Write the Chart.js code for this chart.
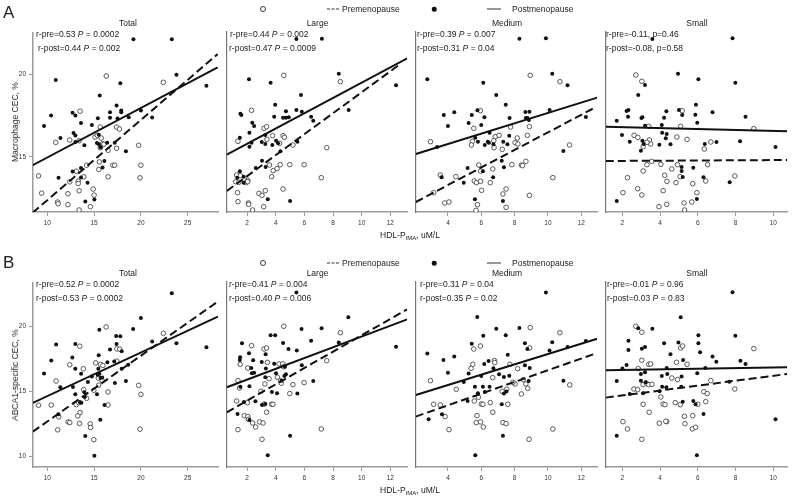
<!DOCTYPE html>
<html lang="en">
  <head>
    <meta charset="UTF-8" />
    <title>CEC vs HDL-P</title>
    <script src="https://cdn.jsdelivr.net/npm/chart.js"></script>
    <style>
      body {
        margin: 0;
        background: #fff;
        font-family: "Liberation Sans", Arial, sans-serif;
        color: #222;
      }
      #wrap {
        position: relative;
        width: 792px;
        height: 496px;
        overflow: hidden;
      }
      .txt {
        position: absolute;
        white-space: nowrap;
        transform: translateY(-50%);
        font-size: 8.5px;
        line-height: 1;
      }
      .ctr {
        transform: translate(-50%, -50%);
      }
      .ylab {
        position: absolute;
        white-space: nowrap;
        font-size: 8.5px;
        color: #222;
        transform: translate(-50%, -50%) rotate(-90deg);
      }
      .big {
        font-size: 17px;
      }
      sub {
        font-size: 6px;
        vertical-align: -2px;
      }
    </style>
  </head>
  <body>
    <div id="wrap"></div>

    <script>
      // panel names and axis ticks
      const panelNames = ["Total", "Large", "Medium", "Small"];
      const xTicks = [
        [10, 15, 20, 25],
        [2, 4, 6, 8, 10, 12],
        [4, 6, 8, 10, 12],
        [2, 4, 6, 8, 10],
      ];
      const yTicksA = [15, 20];
      const yTicksB = [10, 15, 20];

      const statsA = [
        ["r-pre=0.53 <i>P</i> = 0.0002", "r-post=0.44 <i>P</i> = 0.002"],
        ["r-pre=0.44 <i>P</i> = 0.002", "r-post=0.47 <i>P</i> = 0.0009"],
        ["r-pre=0.39 <i>P</i> = 0.007", "r-post=0.31 <i>P</i> = 0.04"],
        ["r-pre=-0.11, p=0.46", "r-post=-0.08, p=0.58"],
      ];
      const statsB = [
        ["r-pre=0.52 <i>P</i> = 0.0002", "r-post=0.53 <i>P</i> = 0.0002"],
        ["r-pre=0.41 <i>P</i> = 0.004", "r-post=0.40 <i>P</i> = 0.006"],
        ["r-pre=0.31 <i>P</i> = 0.04", "r-post=0.35 <i>P</i> = 0.02"],
        ["r-pre=-0.01 <i>P</i> = 0.96", "r-post=0.03 <i>P</i> = 0.83"],
      ];

      // ---- A: macrophage CEC ----
      const aTotalPre = [[16.3,19.88],[22.4,19.5],[13.5,17.76],[15.66,16.8],[17.4,16.8],[17.7,16.68],[10.9,15.88],[12.4,16.02],[13.4,15.98],[15.1,16.2],[15.35,16.3],[15.76,16.14],[15.9,15.8],[15.66,15.56],[16.04,15.76],[16.5,15.4],[17.4,15.52],[19.76,15.7],[14.2,14.5],[15.56,14.7],[15.5,14.24],[17.0,14.5],[17.2,14.5],[20.0,14.5],[16.5,13.8],[19.9,13.74],[9.06,13.86],[13.1,14.14],[13.9,13.8],[12.4,13.5],[13.3,13.54],[13.3,13.4],[13.4,12.96],[14.9,13.06],[15.0,12.7],[9.4,12.82],[11.1,12.28],[11.15,12.18],[12.2,12.78],[12.2,12.12],[13.4,11.8],[14.6,12.0]];
      const aTotalPost = [[19.2,22.1],[23.3,22.1],[10.9,19.64],[23.8,19.96],[17.8,19.44],[27.0,19.3],[15.6,18.7],[10.4,17.5],[12.7,17.66],[13.0,17.5],[17.4,18.1],[16.7,17.7],[17.9,17.8],[17.9,17.7],[15.4,17.34],[16.7,17.36],[17.5,17.32],[20.0,17.8],[18.7,17.4],[21.2,17.38],[9.65,16.86],[13.6,17.04],[14.76,16.92],[11.4,16.14],[12.8,16.44],[13.0,16.3],[15.5,16.34],[13.0,15.9],[13.96,15.7],[15.3,15.84],[15.5,15.76],[15.7,15.58],[16.4,15.86],[17.2,15.86],[18.4,15.34],[16.1,14.76],[15.9,14.36],[11.2,13.74],[12.7,14.12],[13.6,14.34],[14.3,13.44],[13.6,13.76],[14.06,12.32],[15.03,12.44]];
      const aTotalPreFit = [[8.44,11.64],[28.2,21.2]];
      const aTotalPostFit = [[8.44,14.5],[28.2,20.4]];

      const aLargePre = [[4.56,19.88],[8.51,19.5],[2.31,17.78],[3.18,16.7],[3.36,16.8],[1.36,15.92],[3.38,16.04],[3.78,16.26],[4.51,16.26],[4.6,16.16],[4.27,15.8],[5.2,15.7],[7.56,15.54],[3.56,14.5],[4.31,14.52],[4.98,14.52],[5.98,14.52],[4.09,14.28],[3.82,14.16],[3.71,13.8],[7.18,13.74],[1.27,13.9],[1.53,13.86],[2.04,13.58],[1.2,13.5],[1.42,13.46],[1.93,13.44],[2.04,13.5],[1.33,12.84],[1.36,12.3],[2.09,12.22],[2.11,12.14],[2.38,11.8],[2.82,12.8],[3.04,12.68],[3.27,12.96],[4.51,13.06],[3.16,12.0]];
      const aLargePost = [[7.22,22.08],[5.44,22.06],[2.13,19.64],[3.64,19.44],[8.4,19.98],[12.4,19.28],[5.76,18.7],[3.96,18.12],[5.44,17.8],[4.71,17.72],[5.82,17.7],[9.09,17.8],[1.53,17.58],[1.6,17.5],[3.89,17.4],[4.51,17.34],[4.71,17.34],[4.91,17.36],[6.47,17.4],[6.62,17.16],[2.36,17.04],[2.49,16.84],[2.16,16.44],[1.49,16.14],[3.27,16.3],[4.02,15.96],[4.16,15.8],[3.76,15.7],[3.27,15.76],[3.02,15.88],[2.31,15.84],[2.16,15.6],[5.51,15.9],[4.33,15.32],[3.04,14.76],[2.6,14.32],[3.29,14.38],[1.49,14.12],[1.76,13.8],[1.31,13.74],[1.76,13.44],[3.44,12.44],[5.0,12.34]];
      const aLargePreFit = [[0.58,12.94],[12.6,20.5]];
      const aLargePostFit = [[0.58,15.12],[13.18,20.9]];

      const aMediumPre = [[8.94,19.88],[10.72,19.5],[5.95,17.76],[5.55,16.7],[7.76,16.78],[8.89,16.8],[2.95,15.9],[5.47,15.92],[5.41,15.7],[6.84,16.2],[7.07,16.28],[6.75,15.96],[6.77,15.54],[7.26,15.44],[8.03,15.84],[8.16,16.12],[8.2,15.76],[8.77,16.28],[11.3,15.7],[5.85,14.5],[5.96,14.14],[6.69,14.26],[7.84,14.52],[8.41,14.5],[8.68,14.72],[8.48,14.46],[3.54,13.9],[4.48,13.8],[5.58,13.54],[5.71,13.44],[5.96,13.52],[6.54,13.44],[10.3,13.74],[6.02,12.98],[7.49,13.06],[7.3,12.76],[8.89,12.68],[3.14,12.84],[3.81,12.22],[4.06,12.28],[5.77,12.12],[5.68,11.78],[7.49,11.96]];
      const aMediumPost = [[8.29,22.08],[9.88,22.1],[2.76,19.64],[6.12,19.44],[10.26,19.98],[11.18,19.28],[6.9,18.7],[7.47,18.12],[3.75,17.5],[4.38,17.66],[5.43,17.5],[4.0,16.84],[5.24,17.02],[5.77,17.78],[6.19,17.36],[6.0,16.9],[7.7,17.32],[8.65,17.68],[8.89,17.7],[8.68,17.32],[8.77,17.32],[8.86,17.2],[10.1,17.8],[12.28,17.38],[6.5,16.44],[5.64,16.14],[5.8,15.9],[6.39,15.9],[6.46,15.84],[6.73,15.74],[6.21,15.7],[7.32,15.9],[7.57,15.74],[7.68,16.26],[10.93,15.34],[7.23,14.76],[7.36,14.36],[5.18,14.32],[6.1,14.12],[6.71,13.76],[3.62,13.76],[4.95,13.44],[5.62,12.44],[7.3,12.34],[3.35,15.58]];
      const aMediumPreFit = [[2.07,12.28],[12.74,17.9]];
      const aMediumPostFit = [[2.07,15.16],[12.96,18.54]];

      const aSmallPre = [[2.71,19.9],[3.03,19.52],[5.17,17.76],[3.4,16.82],[5.09,16.82],[8.97,16.68],[2.62,16.28],[2.82,16.16],[3.43,16.0],[3.5,15.76],[3.3,15.86],[3.1,15.6],[4.89,16.18],[5.43,16.04],[6.34,15.46],[6.69,15.88],[3.3,14.52],[3.55,14.72],[4.04,14.54],[4.62,14.26],[4.92,14.52],[6.52,14.52],[3.1,14.14],[4.24,13.88],[4.36,13.52],[4.84,13.44],[5.06,13.8],[6.42,13.54],[5.73,13.38],[2.27,13.74],[7.96,13.84],[2.81,13.08],[4.16,12.96],[2.03,12.84],[3.03,12.7],[5.95,12.84],[4.35,12.14],[3.94,12.0],[5.27,12.22],[5.68,12.28],[5.3,11.8]];
      const aSmallPost = [[7.84,22.1],[3.59,22.06],[4.95,19.98],[6.03,19.64],[7.99,19.44],[3.2,19.3],[2.84,18.7],[5.9,18.12],[2.22,17.74],[2.32,17.8],[2.3,17.4],[3.01,17.32],[3.06,17.36],[1.7,17.16],[4.33,17.72],[4.21,17.34],[5.0,17.8],[5.17,17.5],[5.87,17.52],[5.97,17.04],[6.78,17.66],[8.53,17.4],[3.2,16.86],[4.09,16.9],[1.98,16.3],[2.39,15.9],[4.11,16.44],[4.35,16.36],[4.3,16.1],[3.06,15.96],[3.13,15.76],[2.98,15.36],[3.96,15.72],[4.55,15.74],[6.37,15.76],[6.99,15.88],[8.24,15.92],[10.12,15.58],[5.14,14.38],[5.14,14.14],[5.2,13.78],[5.76,14.34],[6.3,13.76],[7.69,13.46],[1.7,12.34],[5.95,12.46]];
      const aSmallPreFit = [[1.12,14.74],[10.74,14.8]];
      const aSmallPostFit = [[1.12,16.8],[10.74,16.52]];

      // ---- B: ABCA1-specific CEC ----
      const bTotalPre = [[16.28,19.95],[22.4,19.46],[13.47,18.47],[17.43,18.27],[17.74,18.24],[12.4,17.04],[13.85,16.73],[10.94,15.79],[15.17,17.19],[15.69,17.07],[15.94,16.99],[17.43,17.32],[15.45,16.02],[15.49,15.48],[14.97,15.08],[13.89,15.13],[16.49,14.95],[19.76,15.46],[9.06,13.93],[10.42,13.95],[13.09,13.98],[13.37,14.13],[14.2,14.46],[15.87,15.82],[13.5,13.37],[13.26,13.11],[16.49,13.95],[20.0,14.77],[11.22,13.04],[11.11,12.04],[12.22,12.65],[12.4,12.6],[13.44,12.53],[14.58,12.5],[14.62,12.22],[14.97,11.28],[19.9,12.09]];
      const bTotalPost = [[23.3,22.55],[20.0,20.64],[19.17,19.8],[15.56,19.74],[17.36,19.26],[17.8,19.23],[17.4,18.65],[21.2,18.83],[23.8,18.7],[27.0,18.39],[10.94,18.6],[12.99,18.65],[16.7,18.21],[17.95,18.09],[10.42,17.37],[12.67,17.6],[15.49,17.78],[16.42,17.24],[17.15,17.3],[12.99,16.73],[15.45,16.73],[17.95,16.73],[18.65,17.04],[9.65,16.38],[13.61,16.35],[14.76,16.15],[11.39,15.31],[12.74,15.33],[14.34,15.71],[15.38,16.28],[15.56,16.35],[15.69,16.05],[15.87,16.07],[17.22,15.64],[18.4,15.79],[12.99,14.77],[13.96,14.92],[15.31,14.77],[14.0,14.57],[13.5,14.16],[13.64,14.13],[11.18,13.24],[16.11,13.95],[15.66,12.81],[14.06,11.56],[15.03,10.05]];
      const bTotalPreFit = [[8.44,11.89],[28.23,21.91]];
      const bTotalPostFit = [[8.44,14.11],[28.23,20.74]];

      const bLargePre = [[4.56,19.95],[8.51,19.46],[2.31,18.47],[3.18,18.21],[3.36,18.29],[1.51,17.04],[2.04,16.76],[3.42,17.19],[4.22,17.07],[4.49,17.07],[4.56,16.86],[7.56,17.32],[1.36,15.79],[1.47,15.23],[2.96,14.97],[3.53,15.94],[3.24,15.54],[4.11,16.05],[4.33,15.79],[4.38,15.59],[5.2,15.48],[4.98,14.8],[5.98,15.64],[1.27,14.23],[2.02,14.1],[3.2,14.0],[3.71,13.98],[3.8,13.98],[3.36,13.37],[1.8,13.11],[2.04,13.04],[2.09,12.83],[2.38,12.55],[2.6,12.24],[2.87,12.63],[3.11,12.55],[1.36,12.04],[3.04,11.3],[7.18,12.09]];
      const bLargePost = [[5.44,22.53],[9.07,20.64],[5.8,19.74],[7.2,19.8],[3.64,19.26],[3.96,19.26],[6.47,18.85],[4.51,18.67],[8.4,18.7],[12.4,18.39],[1.64,18.65],[4.89,18.21],[5.47,18.09],[2.13,17.88],[3.29,17.81],[1.51,17.58],[1.49,17.37],[2.42,17.35],[3.02,17.22],[3.89,17.09],[3.31,16.71],[2.29,16.76],[2.49,16.4],[2.33,16.35],[4.64,16.86],[5.82,16.96],[4.02,16.35],[3.27,16.05],[4.4,15.79],[4.71,16.28],[4.6,16.15],[1.53,15.33],[2.16,15.36],[6.62,15.77],[3.73,14.92],[4.09,14.82],[5.51,14.8],[2.58,14.21],[3.04,13.93],[3.27,14.0],[1.78,14.16],[1.33,13.24],[2.16,12.78],[5.0,11.58],[3.44,10.08]];
      const bLargePreFit = [[0.58,13.37],[13.18,21.25]];
      const bLargePostFit = [[0.58,15.28],[13.18,20.48]];

      const bMediumPre = [[8.94,19.85],[10.72,19.46],[5.55,18.21],[5.95,18.44],[8.91,18.29],[5.49,17.04],[5.39,16.73],[6.79,17.32],[6.81,17.17],[7.72,17.04],[8.18,16.71],[2.95,15.79],[4.5,15.13],[6.69,16.02],[8.03,15.54],[7.9,15.66],[8.52,15.87],[8.68,15.54],[8.79,15.2],[7.26,14.97],[7.53,15.13],[8.41,14.77],[11.31,15.46],[3.14,13.98],[3.54,13.93],[3.83,13.04],[5.58,14.23],[5.83,14.52],[6.0,14.0],[6.1,13.98],[6.54,14.11],[6.69,13.37],[7.59,13.98],[5.74,13.11],[5.7,12.58],[5.96,12.63],[6.12,12.24],[7.3,12.58],[7.49,12.5],[4.06,12.04],[10.3,12.09],[8.87,11.3]];
      const bMediumPost = [[9.88,22.53],[5.76,20.66],[6.9,19.77],[8.29,19.82],[6.12,19.23],[7.47,19.26],[10.26,18.72],[2.76,17.86],[5.43,18.62],[8.62,18.65],[8.77,18.21],[3.73,17.37],[4.38,17.63],[7.59,17.78],[10.1,18.09],[11.18,18.37],[12.28,18.83],[6.18,17.07],[6.44,17.3],[6.73,16.73],[4.0,16.4],[5.24,16.33],[6.0,16.15],[7.07,16.28],[7.36,16.07],[7.68,16.17],[8.62,16.96],[8.91,16.76],[4.95,15.69],[5.62,15.33],[6.1,15.33],[6.5,15.33],[6.21,14.92],[5.8,14.82],[7.36,14.8],[7.51,14.95],[8.85,15.77],[10.93,15.79],[5.18,14.23],[7.23,13.98],[2.84,12.83],[3.64,13.21],[7.3,11.58],[5.64,10.08]];
      const bMediumPreFit = [[2.07,13.04],[12.74,17.81]];
      const bMediumPostFit = [[2.07,14.69],[12.96,19.0]];

      const bSmallPre = [[2.71,19.95],[3.03,19.49],[8.97,18.24],[5.09,18.29],[5.19,18.44],[3.03,17.35],[3.4,17.04],[3.5,17.07],[2.84,16.71],[5.43,17.04],[4.87,17.19],[4.62,15.99],[4.92,15.87],[6.69,15.79],[2.61,15.15],[2.81,15.1],[3.1,15.48],[3.28,15.59],[3.4,15.48],[3.57,15.51],[4.04,14.54],[4.16,14.0],[4.26,13.95],[4.8,14.11],[5.07,13.95],[6.32,14.95],[6.5,14.8],[6.42,14.18],[7.96,15.15],[6.0,13.98],[3.1,13.98],[3.42,13.37],[5.29,13.06],[5.32,12.5],[5.73,13.11],[5.71,12.09],[5.88,12.22],[4.35,12.65],[4.3,12.68],[3.96,12.53],[2.03,12.65],[2.27,12.09],[3.03,11.3]];
      const bSmallPost = [[7.84,22.55],[5.09,20.64],[3.59,19.77],[2.84,19.8],[6.03,19.26],[7.99,19.23],[2.32,18.85],[4.21,18.65],[6.03,18.65],[4.97,18.7],[3.2,18.37],[3.03,18.24],[2.32,18.14],[4.55,17.81],[6.12,17.96],[6.78,17.63],[6.98,17.24],[8.26,17.32],[8.53,17.07],[5.22,17.37],[2.22,16.99],[2.0,16.71],[4.35,16.76],[6.4,16.76],[3.2,16.43],[2.98,16.3],[4.09,16.15],[4.38,16.3],[5.14,16.1],[5.97,16.35],[2.98,15.79],[1.7,15.77],[4.11,15.33],[4.33,15.28],[5.12,15.33],[3.23,15.66],[2.39,14.77],[3.1,14.82],[3.97,14.97],[5.2,14.18],[5.76,14.23],[5.88,13.98],[7.67,15.71],[6.3,13.24],[10.12,12.83],[1.7,11.58],[5.95,10.08]];
      const bSmallPreFit = [[1.12,14.49],[10.74,16.3]];
      const bSmallPostFit = [[1.12,16.58],[10.74,16.81]];

      // layout (pixels) and axis ranges
      const plotLeft = [33, 223, 412, 602];
      const plotRight = [223, 412, 602, 792];
      const xRange = [[8.47, 28.26], [0.58, 13.18], [2.07, 12.96], [1.12, 10.74]];

      const rows = [
        {
          top: 32, bottom: 212, yMin: 11.68, yMax: 22.48, yTicks: yTicksA,
          letter: "A", yTitle: "Macrophage CEC, %", stats: statsA,
          pre: [aTotalPre, aLargePre, aMediumPre, aSmallPre],
          post: [aTotalPost, aLargePost, aMediumPost, aSmallPost],
          preFit: [aTotalPreFit, aLargePreFit, aMediumPreFit, aSmallPreFit],
          postFit: [aTotalPostFit, aLargePostFit, aMediumPostFit, aSmallPostFit],
          statX: [[36, 38], [230, 229], [417, 417], [606, 606]],
        },
        {
          top: 282, bottom: 467, yMin: 9.18, yMax: 23.34, yTicks: yTicksB,
          letter: "B", yTitle: "ABCA1-specific CEC, %", stats: statsB,
          pre: [bTotalPre, bLargePre, bMediumPre, bSmallPre],
          post: [bTotalPost, bLargePost, bMediumPost, bSmallPost],
          preFit: [bTotalPreFit, bLargePreFit, bMediumPreFit, bSmallPreFit],
          postFit: [bTotalPostFit, bLargePostFit, bMediumPostFit, bSmallPostFit],
          statX: [[36, 36], [229, 229], [420, 420], [607, 607]],
        },
      ];

      const AXIS = "#9a9a9a";
      const INK = "#111";
      const wrap = document.getElementById("wrap");

      Chart.defaults.font.family = "'Liberation Sans', Arial, sans-serif";
      Chart.defaults.color = "#333";

      function addText(html, x, y, cls) {
        const d = document.createElement("div");
        d.className = cls;
        d.style.left = x + "px";
        d.style.top = y + "px";
        d.innerHTML = html;
        wrap.appendChild(d);
        return d;
      }

      const toPts = (arr) => arr.map(([x, y]) => ({ x, y }));

      function makePanel(row, i) {
        const first = i === 0;
        const left = first ? 0 : plotLeft[i] - 1;
        const w = plotRight[i] - left;
        const canvasTop = row.top - 6;
        const h = 6 + (row.bottom - row.top) + 20;
        const canvas = document.createElement("canvas");
        canvas.width = w;
        canvas.height = h;
        canvas.style.cssText =
          "position:absolute;left:" + left + "px;top:" + canvasTop + "px;width:" + w + "px;height:" + h + "px";
        wrap.appendChild(canvas);

        new Chart(canvas.getContext("2d"), {
          type: "scatter",
          data: {
            datasets: [
              {
                data: toPts(row.postFit[i]),
                showLine: true,
                borderColor: INK,
                borderWidth: 2,
                pointRadius: 0,
              },
              {
                data: toPts(row.preFit[i]),
                showLine: true,
                borderColor: INK,
                borderWidth: 2,
                borderDash: [8, 4],
                pointRadius: 0,
              },
              {
                data: toPts(row.post[i]),
                pointRadius: 2,
                pointBackgroundColor: INK,
                pointBorderWidth: 0,
              },
              {
                data: toPts(row.pre[i]),
                pointRadius: 2.3,
                pointBackgroundColor: "#fff",
                pointBorderColor: "#333",
                pointBorderWidth: 0.8,
              },
            ],
          },
          options: {
            responsive: false,
            animation: false,
            events: [],
            layout: { padding: { top: 6, left: 0, right: 0, bottom: 0 } },
            plugins: { legend: { display: false }, tooltip: { enabled: false } },
            scales: {
              x: {
                type: "linear",
                min: xRange[i][0],
                max: xRange[i][1],
                afterBuildTicks: (s) => {
                  s.ticks = xTicks[i].map((v) => ({ value: v }));
                },
                afterFit: (s) => {
                  s.height = 20;
                },
                grid: { display: true, drawOnChartArea: false, drawTicks: true, tickLength: 4, color: AXIS },
                border: { display: true, color: AXIS, width: 1.5 },
                ticks: { font: { size: 6.5 }, padding: 3, maxRotation: 0, autoSkip: false },
              },
              y: {
                type: "linear",
                min: row.yMin,
                max: row.yMax,
                afterBuildTicks: (s) => {
                  s.ticks = row.yTicks.map((v) => ({ value: v }));
                },
                afterFit: (s) => {
                  s.width = first ? 33 : 1;
                },
                grid: {
                  display: first,
                  drawOnChartArea: false,
                  drawTicks: true,
                  tickLength: 4,
                  color: AXIS,
                },
                border: { display: true, color: first ? AXIS : "#777", width: first ? 1.5 : 1.2 },
                ticks: { display: first, font: { size: 6.5 }, padding: 3 },
              },
            },
          },
        });

        // panel title and r / P annotations
        const cx = (plotLeft[i] + plotRight[i]) / 2;
        addText(panelNames[i], cx, row.top - 9.5, "txt ctr");
        addText(row.stats[i][0], row.statX[i][0], row.top + 2, "txt");
        addText(row.stats[i][1], row.statX[i][1], row.top + 16, "txt");
      }

      function legend(y) {
        const c1 = addText("", 263, y, "txt ctr");
        c1.style.cssText += "width:4px;height:4px;border:0.8px solid #333;border-radius:50%;";
        const l1 = addText("", 327, y, "txt");
        l1.style.cssText += "width:12px;border-top:1px dashed #333;";
        addText("Premenopause", 342, y, "txt");
        const c2 = addText("", 434, y, "txt ctr");
        c2.style.cssText += "width:4.5px;height:4.5px;background:#111;border-radius:50%;";
        const l2 = addText("", 487, y, "txt");
        l2.style.cssText += "width:14px;border-top:1px solid #333;";
        addText("Postmenopause", 512, y, "txt");
      }

      rows.forEach((row, r) => {
        for (let i = 0; i < 4; i++) makePanel(row, i);
        addText(row.letter, 3, row.top - 20, "txt big");
        addText(row.yTitle, 15, (row.top + row.bottom) / 2, "ylab");
        addText("HDL-P<sub>IMA</sub>, uM/L", 410, row.bottom + 24, "txt ctr");
        legend(r === 0 ? 9 : 263);
      });
    </script>
  </body>
</html>
